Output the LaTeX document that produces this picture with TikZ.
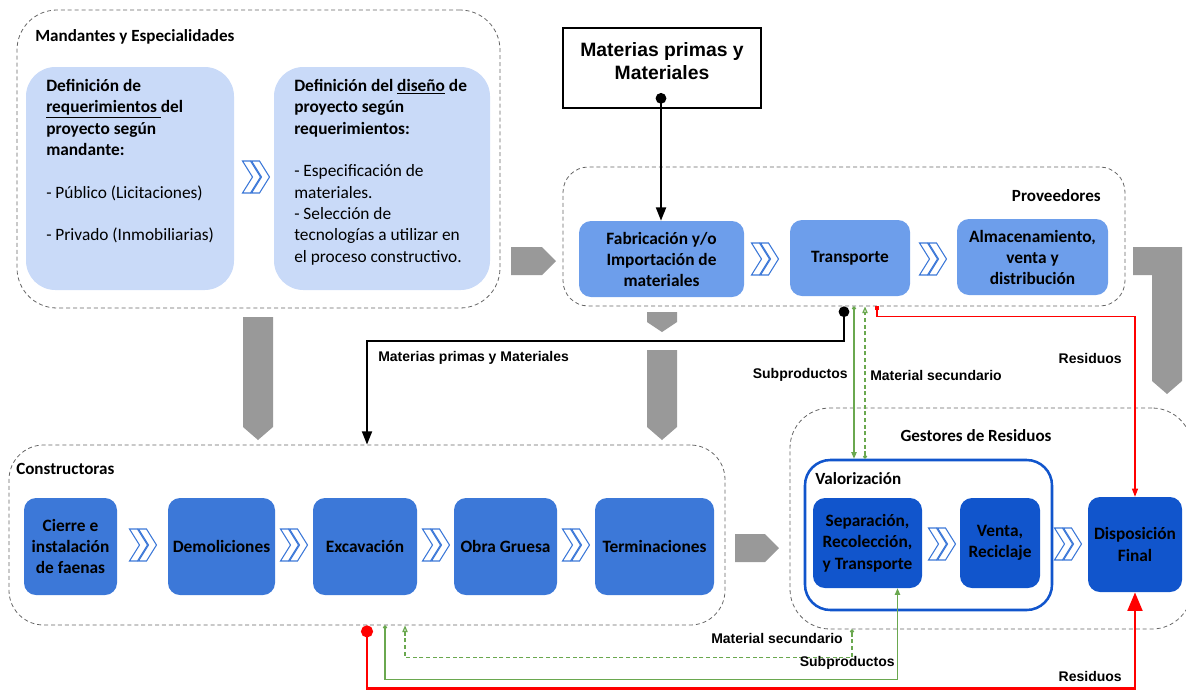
\documentclass[tikz,border=0pt]{standalone}
\usepackage{fontspec}
\setmainfont{Carlito}
\newfontfamily\arialf{Liberation Sans}
\usetikzlibrary{arrows.meta,calc,fit}
\definecolor{lb}{HTML}{C9DAF8}
\definecolor{mb}{HTML}{6D9EEB}
\definecolor{db}{HTML}{3C78D8}
\definecolor{ddb}{HTML}{1155CC}
\definecolor{gar}{HTML}{999999}
\definecolor{grn}{HTML}{6AA84F}
\definecolor{rd}{HTML}{FF0000}
\definecolor{dashgray}{HTML}{666666}
\begin{document}
\begin{tikzpicture}[x=0.75pt,y=-0.75pt,
  container/.style={draw=dashgray, dash pattern=on 3pt off 2.2pt, line width=0.6pt, inner sep=0pt},
  grouptitle/.style={font=\bfseries\fontsize{12.8}{14}\selectfont, inner sep=0pt},
  softbox/.style={fill=lb, rounded corners=22pt, inner sep=0pt},
  boxtext/.style={align=left, inner sep=0pt, font=\fontsize{13}{16}\selectfont},
  wh/.style 2 args={minimum width=#1*0.75pt, minimum height=#2*0.75pt},
  stepM/.style={fill=mb, rounded corners=9pt, inner sep=0pt, align=center, font=\bfseries\fontsize{13}{15.75}\selectfont},
  stepC/.style={fill=db, rounded corners=9pt, inner sep=0pt, align=center, font=\bfseries\fontsize{13}{16}\selectfont},
  stepG/.style={fill=ddb, rounded corners=9pt, inner sep=0pt, align=center, font=\bfseries\fontsize{13}{16}\selectfont},
  flowlabel/.style={font=\arialf\bfseries\fontsize{10.5}{12}\selectfont, inner sep=0pt},
  grayarrow/.style={fill=gar},
  blackln/.style={draw=black, line width=1.5pt},
  grnln/.style={draw=grn, line width=0.9pt},
  redthin/.style={draw=rd, line width=0.8pt},
  redthick/.style={draw=rd, line width=2.2pt},
  chevstroke/.style={draw=db, fill=white, line width=0.8pt, line join=miter},
  pics/chev/.style={code={
    \foreach \dx in {-13.5,-4.5}{
      \path[chevstroke] (\dx,-16) -- ++(8,0) -- ++(10,16) -- ++(-10,16) -- ++(-8,0) -- ++(10,-16) -- cycle;}
  }}
]
\useasboundingbox (0,0) rectangle (1186,690);

% ---------- Mandantes y Especialidades ----------
\node[container, rounded corners=30pt, fit={(17,10) (500,308)}] (mand) {};
\node[grouptitle, anchor=west] (mandt) at (35,37) {Mandantes y Especialidades};
\node[softbox, fit={(26,67) (234,290)}] (req) {};
\node[boxtext, anchor=north west] (reqt) at (46,79)
  {\textbf{Definición de}\\
   \textbf{\underline{requerimientos\ }del}\\
   \textbf{proyecto según}\\
   \textbf{mandante:}\\[16pt]
   - Público (Licitaciones)\\[16pt]
   - Privado (Inmobiliarias)};
\node[softbox, fit={(274,67) (490,290)}] (dis) {};
\node[boxtext, anchor=north west] (dist) at (294,79)
  {\textbf{Definición del \underline{diseño} de}\\
   \textbf{proyecto según}\\
   \textbf{requerimientos:}\\[16pt]
   - Especificación de\\
   materiales.\\
   - Selección de\\
   tecnologías a utilizar en\\
   el proceso constructivo.};
\pic at (256,177) {chev};

% ---------- Materias primas ----------
\node[draw=black, line width=1.5pt, fill=white, inner sep=0pt, fit={(563,28) (761,108)}] (mp) {};
\node[align=center, inner sep=0pt, font=\arialf\bfseries\fontsize{14.5}{17.25}\selectfont] (mpt) at (662,61)
  {Materias primas y\\Materiales};
\coordinate (mpdot) at (661,93);

% ---------- Proveedores ----------
\node[container, rounded corners=19pt, fit={(563,167) (1125,306)}] (prov) {};
\node[grouptitle, anchor=east] (provt) at (1101,196) {Proveedores};
\node[stepM, wh={165}{76}] (fab) at (661.5,259) {Fabricación y/o\\Importación de\\materiales};
\node[stepM, wh={120}{76}] (tr) at (850,258) {Transporte};
\node[stepM, wh={151}{76}] (alm) at (1032.5,257) {Almacenamiento,\\venta y\\distribución};
\pic at (765,259) {chev};
\pic at (933,259) {chev};

% ---------- Constructoras ----------
\node[container, rounded corners=26pt, fit={(9,445) (725,625)}] (const) {};
\node[grouptitle, anchor=west] (constt) at (16,469) {Constructoras};
\node[stepC, wh={93}{97}] (cie) at (70.5,546.5) {Cierre e\\instalación\\de faenas};
\node[stepC, wh={107}{97}] (dem) at (221.5,546.5) {Demoliciones};
\node[stepC, wh={104}{97}] (exc) at (365,546.5) {Excavación};
\node[stepC, wh={103}{97}] (obr) at (505.5,546.5) {Obra Gruesa};
\node[stepC, wh={119}{97}] (ter) at (654.5,546.5) {Terminaciones};
\pic at (143,545) {chev};
\pic at (294,545) {chev};
\pic at (436,545) {chev};
\pic at (576,545) {chev};

% ---------- Gestores de Residuos ----------
\node[container, rounded corners=30pt, fit={(790,408) (1192,629)}] (gest) {};
\node[grouptitle] (gestt) at (976,436) {Gestores de Residuos};
\node[draw=ddb, line width=1.9pt, rounded corners=19pt, inner sep=0pt, fit={(805,460) (1052,610)}] (valor) {};
\node[grouptitle, anchor=west] (valort) at (815,479) {Valorización};
\node[stepG, wh={109}{90}] (sep) at (867.5,543) {Separación,\\Recolección,\\y Transporte};
\node[stepG, wh={80}{90}] (ven) at (1000,543) {Venta,\\Reciclaje};
\node[stepG, wh={94}{95}] (disp) at (1135,544.5) {Disposición\\Final};
\pic at (942,544) {chev};
\pic at (1068,544) {chev};

% ---------- broad grey flow arrows ----------
\fill[grayarrow] (511,247) -- (542,247) -- (556,261) -- (542,275) -- (511,275) -- cycle;
\fill[grayarrow] (647,312) -- (677,312) -- (677,322) -- (662,332) -- (647,322) -- cycle;
\fill[grayarrow] (647,350) -- (677,350) -- (677,427) -- (662,440) -- (647,427) -- cycle;
\fill[grayarrow] (243,317) -- (273,317) -- (273,427) -- (258,440) -- (243,427) -- cycle;
\fill[grayarrow] (1133,247) -- (1182,247) -- (1182,381) -- (1167,394) -- (1152,381) -- (1152,275) -- (1133,275) -- cycle;
\fill[grayarrow] (735,534) -- (765,534) -- (779,548) -- (765,562) -- (735,562) -- cycle;

% ---------- material flows ----------
\draw[blackln, {Circle[length=8pt]}-{Triangle[length=10pt,width=7.5pt]}] (mpdot) -- (mpdot |- fab.north);
\draw[blackln, {Circle[length=8pt]}-{Triangle[length=10pt,width=7.5pt]}] (prov.south) -- ++(0,35) -| (const.north);
\node[flowlabel, anchor=west] (lmp) at (378,358) {Materias primas y Materiales};

\coordinate (g1) at ($(prov.south)+(10,0)$);
\coordinate (g2) at ($(prov.south)+(21,0)$);
\coordinate (r1) at ($(prov.south)+(33,0)$);
\draw[grnln, {Circle[length=3pt]}-{Triangle[length=5pt,width=4pt]}] (g1) -- (g1 |- valor.north);
\draw[grnln, dash pattern=on 3pt off 2pt, {Circle[length=3pt]}-{Triangle[open,length=5pt,width=4pt]}] (g2 |- valor.north) -- (g2);
\draw[redthin, {Square[length=3pt]}-{Triangle[length=6pt,width=4.5pt]}] (r1) -- ++(0,10) -| (disp.north);
\node[flowlabel, anchor=east] (lsub1) at (848,375) {Subproductos};
\node[flowlabel, anchor=west] (lsec1) at (870,375) {Material secundario};
\node[flowlabel, anchor=east] (lres1) at (1122,358) {Residuos};

\coordinate (g3) at ($(const.south)+(18,0)$);
\coordinate (g4) at ($(sep.south)+(30,0)$);
\coordinate (g5) at ($(gest.south)+(-139,0)$);
\coordinate (g6) at ($(const.south)+(38,0)$);
\draw[redthick, {Circle[length=9pt]}-{Triangle[length=14pt,width=11pt]}] (const.south) -- ++(0,63) -| (disp.south);
\draw[grnln, {Circle[length=3pt]}-{Triangle[length=5pt,width=4pt]}] (g3) -- ++(0,54) -| (g4);
\draw[grnln, dash pattern=on 3pt off 2pt, {Circle[length=3pt]}-{Triangle[open,length=5pt,width=4pt]}] (g5) -- ++(0,28) -| (g6);
\node[flowlabel, anchor=east] (lsec2) at (843,638) {Material secundario};
\node[flowlabel, anchor=east] (lsub2) at (895,663) {Subproductos};
\node[flowlabel, anchor=east] (lres2) at (1122,676) {Residuos};
\end{tikzpicture}
\end{document}
